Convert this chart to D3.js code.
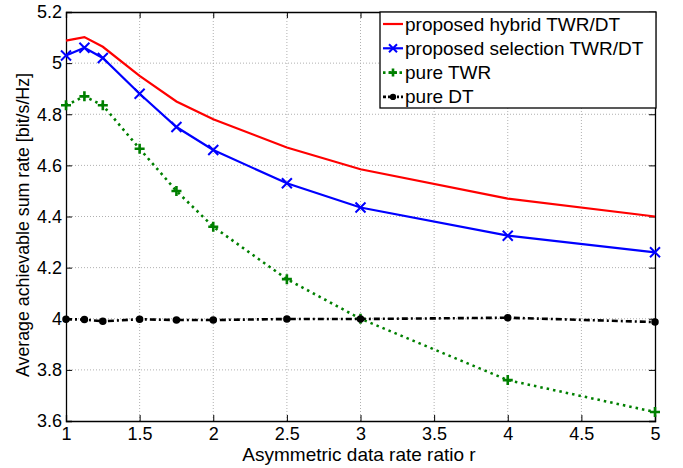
<!DOCTYPE html>
<html>
<head>
<meta charset="utf-8">
<script src="https://cdn.jsdelivr.net/npm/d3@7"></script>
<style>
  body { margin: 0; background: #fff; }
  svg { font-family: "Liberation Sans", Arial, sans-serif; }
</style>
</head>
<body>
<svg id="chart" width="683" height="468"></svg>
<script>
// data
const ratios = [1, 1.125, 1.25, 1.5, 1.75, 2, 2.5, 3, 4, 5];
const hybrid = [5.088, 5.102, 5.064, 4.95, 4.85, 4.78, 4.67, 4.585, 4.47, 4.40];
const selection = [5.03, 5.06, 5.02, 4.88, 4.75, 4.66, 4.53, 4.435, 4.325, 4.26];
const pureTWR = [4.835, 4.87, 4.835, 4.665, 4.5, 4.36, 4.155, 4.0, 3.76, 3.635];
const pureDT = [3.998, 3.997, 3.99, 3.998, 3.995, 3.995, 3.999, 3.999, 4.004, 3.987];
const xTicks = [1, 1.5, 2, 2.5, 3, 3.5, 4, 4.5, 5];
const yTicks = [3.6, 3.8, 4, 4.2, 4.4, 4.6, 4.8, 5, 5.2];
const legendNames = ['proposed hybrid TWR/DT', 'proposed selection TWR/DT', 'pure TWR', 'pure DT'];

const mLeft = 66, mRight = 655, mTop = 12, mBottom = 421;

const svg = d3.select('#chart');
const x = d3.scaleLinear().domain([1, 5]).range([mLeft, mRight]);
const y = d3.scaleLinear().domain([3.6, 5.2]).range([mBottom, mTop]);

//grid
const grid = svg.append('g')
  .attr('stroke', '#b0b0b0').attr('stroke-width', 1).attr('stroke-dasharray', '1,2');
grid.selectAll('.gx').data(xTicks.slice(1, -1)).join('line')
  .attr('x1', d => x(d)).attr('x2', d => x(d)).attr('y1', mTop).attr('y2', mBottom);
grid.selectAll('.gy').data(yTicks.slice(1, -1)).join('line')
  .attr('x1', mLeft).attr('x2', mRight).attr('y1', d => y(d)).attr('y2', d => y(d));

//axes with inward ticks
const fmt = d => String(+d.toFixed(1));
const xAxis = svg.append('g').attr('transform', `translate(0,${mBottom})`)
  .call(d3.axisBottom(x).tickValues(xTicks).tickSize(-6).tickPadding(10).tickFormat(fmt));
const yAxis = svg.append('g').attr('transform', `translate(${mLeft},0)`)
  .call(d3.axisLeft(y).tickValues(yTicks).tickSize(-6).tickPadding(4).tickFormat(fmt));
svg.append('g').attr('transform', `translate(0,${mTop})`)
  .call(d3.axisTop(x).tickValues(xTicks).tickSize(-6).tickFormat(''));
svg.append('g').attr('transform', `translate(${mRight},0)`)
  .call(d3.axisRight(y).tickValues(yTicks).tickSize(-6).tickFormat(''));
svg.selectAll('.domain').attr('stroke', '#000').attr('stroke-width', 1.3);
svg.selectAll('.tick line').attr('stroke', '#000');
svg.selectAll('.tick text').attr('font-size', 18).attr('fill', '#000')
  .attr('font-family', '"Liberation Sans", Arial, sans-serif');
xAxis.selectAll('.tick text').attr('dy', '0.5em');

//labels
svg.append('text').attr('x', 359).attr('y', 461).attr('text-anchor', 'middle')
  .attr('font-size', 19).text('Asymmetric data rate ratio r');
svg.append('text').attr('transform', `translate(29,${225}) rotate(-90)`)
  .attr('text-anchor', 'middle').attr('font-size', 17.8)
  .text('Average achievable sum rate [bit/s/Hz]');

const series = [
  { vals: hybrid, color: '#ff0000', dash: null, marker: 'none' },
  { vals: selection, color: '#0000ff', dash: null, marker: 'x' },
  { vals: pureTWR, color: '#008000', dash: '2.5,4', marker: 'plus' },
  { vals: pureDT, color: '#000000', dash: '6,3,2,3', marker: 'dot' }
];

const line = d3.line().x((d, i) => x(ratios[i])).y(d => y(d));

function drawMarker(g, kind, color, size) {
  if (kind === 'x') {
    g.append('path').attr('d', `M${-size},${-size}L${size},${size}M${-size},${size}L${size},${-size}`)
      .attr('stroke', color).attr('stroke-width', 2).attr('fill', 'none');
  } else if (kind === 'plus') {
    g.append('path').attr('d', `M${-size},0L${size},0M0,${-size}L0,${size}`)
      .attr('stroke', color).attr('stroke-width', 2.6).attr('fill', 'none');
  } else if (kind === 'dot') {
    g.append('circle').attr('r', size * 0.6).attr('fill', color).attr('stroke', color).attr('stroke-width', 1.5);
  }
}

series.forEach(s => {
  svg.append('path').datum(s.vals)
    .attr('d', line).attr('fill', 'none')
    .attr('stroke', s.color).attr('stroke-width', s.dash ? 2.6 : 2.2)
    .attr('stroke-dasharray', s.dash);
  s.vals.forEach((v, i) => {
    const g = svg.append('g').attr('transform', `translate(${x(ratios[i])},${y(v)})`);
    drawMarker(g, s.marker, s.color, 5);
  });
});

//legend
const lg = svg.append('g');
lg.append('rect').attr('x', 380).attr('y', 12).attr('width', 276).attr('height', 96)
  .attr('fill', '#fff').attr('stroke', '#000').attr('stroke-width', 1.3);
legendNames.forEach((name, i) => {
  const yy = 24 + i * 24.3;
  const s = series[i];
  lg.append('line').attr('x1', 383).attr('x2', 403).attr('y1', yy).attr('y2', yy)
    .attr('stroke', s.color).attr('stroke-width', s.dash ? 2.6 : 2.2)
    .attr('stroke-dasharray', s.dash ? (i === 3 ? '3,2,2,2' : '2.5,3') : null);
  const mg = lg.append('g').attr('transform', `translate(393,${yy})`);
  drawMarker(mg, s.marker, s.color, 4);
  lg.append('text').attr('x', 405).attr('y', yy + 6.5).attr('font-size', 19).text(name);
});
</script>
</body>
</html>
